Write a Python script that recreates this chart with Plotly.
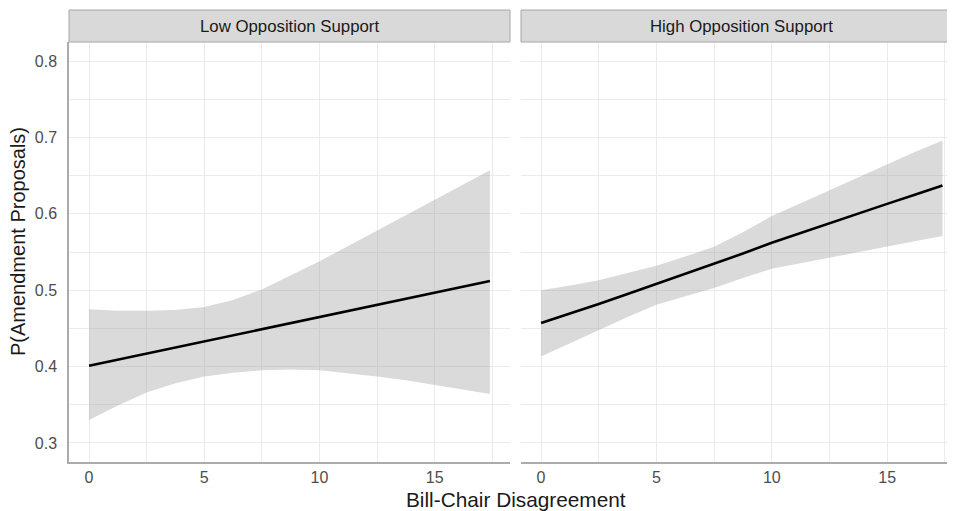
import plotly.graph_objects as go

# ---- data ----
x_vals = [0, 1.25, 2.5, 3.75, 5, 6.25, 7.5, 8.75, 10, 11.25, 12.5, 13.75, 15, 16.2, 17.4]

low_fit = [0.401, 0.409, 0.417, 0.425, 0.433, 0.441, 0.449, 0.457, 0.465, 0.473, 0.481, 0.489, 0.497, 0.505, 0.512]
low_upper = [0.475, 0.473, 0.473, 0.474, 0.478, 0.487, 0.501, 0.519, 0.538, 0.558, 0.578, 0.598, 0.618, 0.637, 0.657]
low_lower = [0.330, 0.349, 0.366, 0.378, 0.387, 0.392, 0.395, 0.396, 0.395, 0.391, 0.387, 0.382, 0.376, 0.370, 0.364]

high_fit = [0.457, 0.469, 0.482, 0.495, 0.508, 0.521, 0.535, 0.548, 0.562, 0.575, 0.588, 0.601, 0.613, 0.625, 0.637]
high_upper = [0.500, 0.506, 0.513, 0.522, 0.532, 0.544, 0.557, 0.576, 0.597, 0.614, 0.631, 0.648, 0.665, 0.681, 0.696]
high_lower = [0.413, 0.431, 0.448, 0.465, 0.481, 0.492, 0.503, 0.516, 0.528, 0.536, 0.543, 0.550, 0.557, 0.564, 0.571]

panel_titles = ["Low Opposition Support", "High Opposition Support"]
x_ticks = [0, 5, 10, 15]
y_ticks = [0.3, 0.4, 0.5, 0.6, 0.7, 0.8]
x_title = "Bill-Chair Disagreement"
y_title = "P(Amendment Proposals)"

# ---- styling ----
# The page body has an 8px margin, so the figure is drawn 8px smaller and
# all screen-pixel positions below are offset by that margin.
OFF = 8
W, H = 955 - OFF, 511 - OFF
FONT = "Liberation Sans, Arial, Helvetica, sans-serif"
GRID = "#EBEBEB"
AXLINE = "#ABABAB"
RIBBON = "rgba(153,153,153,0.36)"
TICKCOL = "#4D4D4D"

def px(x):
    return (x - OFF) / W

def py(y):
    return 1 - (y - OFF) / H

fig = go.Figure()

panels = [
    (low_fit, low_upper, low_lower, "x", "y"),
    (high_fit, high_upper, high_lower, "x2", "y2"),
]
for fit, up, lo, xa, ya in panels:
    fig.add_trace(go.Scatter(
        x=x_vals + x_vals[::-1], y=up + lo[::-1],
        fill="toself", fillcolor=RIBBON, line=dict(width=0),
        mode="lines", hoverinfo="skip", showlegend=False,
        xaxis=xa, yaxis=ya))
    fig.add_trace(go.Scatter(
        x=x_vals, y=fit, mode="lines",
        line=dict(color="black", width=2.6),
        showlegend=False, xaxis=xa, yaxis=ya))

xcommon = dict(
    range=[-0.87, 18.27], tickvals=x_ticks, ticktext=[str(t) for t in x_ticks],
    showgrid=True, gridcolor=GRID, gridwidth=1.3,
    minor=dict(dtick=2.5, tick0=0, showgrid=True, gridcolor=GRID, gridwidth=1),
    zeroline=False, showline=True, linecolor=AXLINE, linewidth=1.5,
    ticks="", ticklabelstandoff=0,
    tickfont=dict(family=FONT, size=16, color=TICKCOL),
)
ycommon = dict(
    range=[0.275, 0.825], tickvals=y_ticks, ticktext=[f"{t:.1f}" for t in y_ticks],
    showgrid=True, gridcolor=GRID, gridwidth=1.3,
    minor=dict(dtick=0.05, tick0=0.3, showgrid=True, gridcolor=GRID, gridwidth=1),
    zeroline=False, ticks="", ticklabelstandoff=7,
    tickfont=dict(family=FONT, size=16, color=TICKCOL),
    domain=[py(462), py(42)],
)

x1 = dict(xcommon, domain=[px(69), px(510)], anchor="y")
x2 = dict(xcommon, domain=[px(521), 1.0], anchor="y2",
          range=[-0.87, -0.87 + (955 - 521) / 23.07])
y1 = dict(ycommon, anchor="x", showline=True, linecolor=AXLINE, linewidth=1.5)
y2 = dict(ycommon, anchor="x2", matches="y", showticklabels=False, showline=False)

shapes = []
annotations = []
strips = [(69, 510, 289.5, panel_titles[0]), (521, 1000, 741.5, panel_titles[1])]
for x0, x1p, cx, label in strips:
    shapes.append(dict(type="rect", xref="paper", yref="paper",
                       x0=px(x0), x1=px(x1p), y0=py(42), y1=py(10),
                       fillcolor="#D9D9D9", line=dict(color="#A6A6A6", width=1),
                       layer="above"))
    annotations.append(dict(text=label, xref="paper", yref="paper",
                            x=px(cx), y=py(26.5), showarrow=False,
                            xanchor="center", yanchor="middle",
                            font=dict(family=FONT, size=16.8, color="#1A1A1A")))

annotations.append(dict(text=x_title, xref="paper", yref="paper",
                        x=px(515.5), y=py(499), showarrow=False,
                        xanchor="center", yanchor="middle",
                        font=dict(family=FONT, size=20.8, color="#1A1A1A")))
annotations.append(dict(text=y_title, xref="paper", yref="paper",
                        x=px(17.5), y=py(241.5), showarrow=False, textangle=-90,
                        xanchor="center", yanchor="middle",
                        font=dict(family=FONT, size=20, color="#1A1A1A")))

fig.update_layout(
    width=W, height=H, margin=dict(l=0, r=0, t=0, b=0),
    paper_bgcolor="white", plot_bgcolor="white",
    xaxis=x1, xaxis2=x2, yaxis=y1, yaxis2=y2,
    shapes=shapes, annotations=annotations, showlegend=False,
)

fig.write_html("out.html")
